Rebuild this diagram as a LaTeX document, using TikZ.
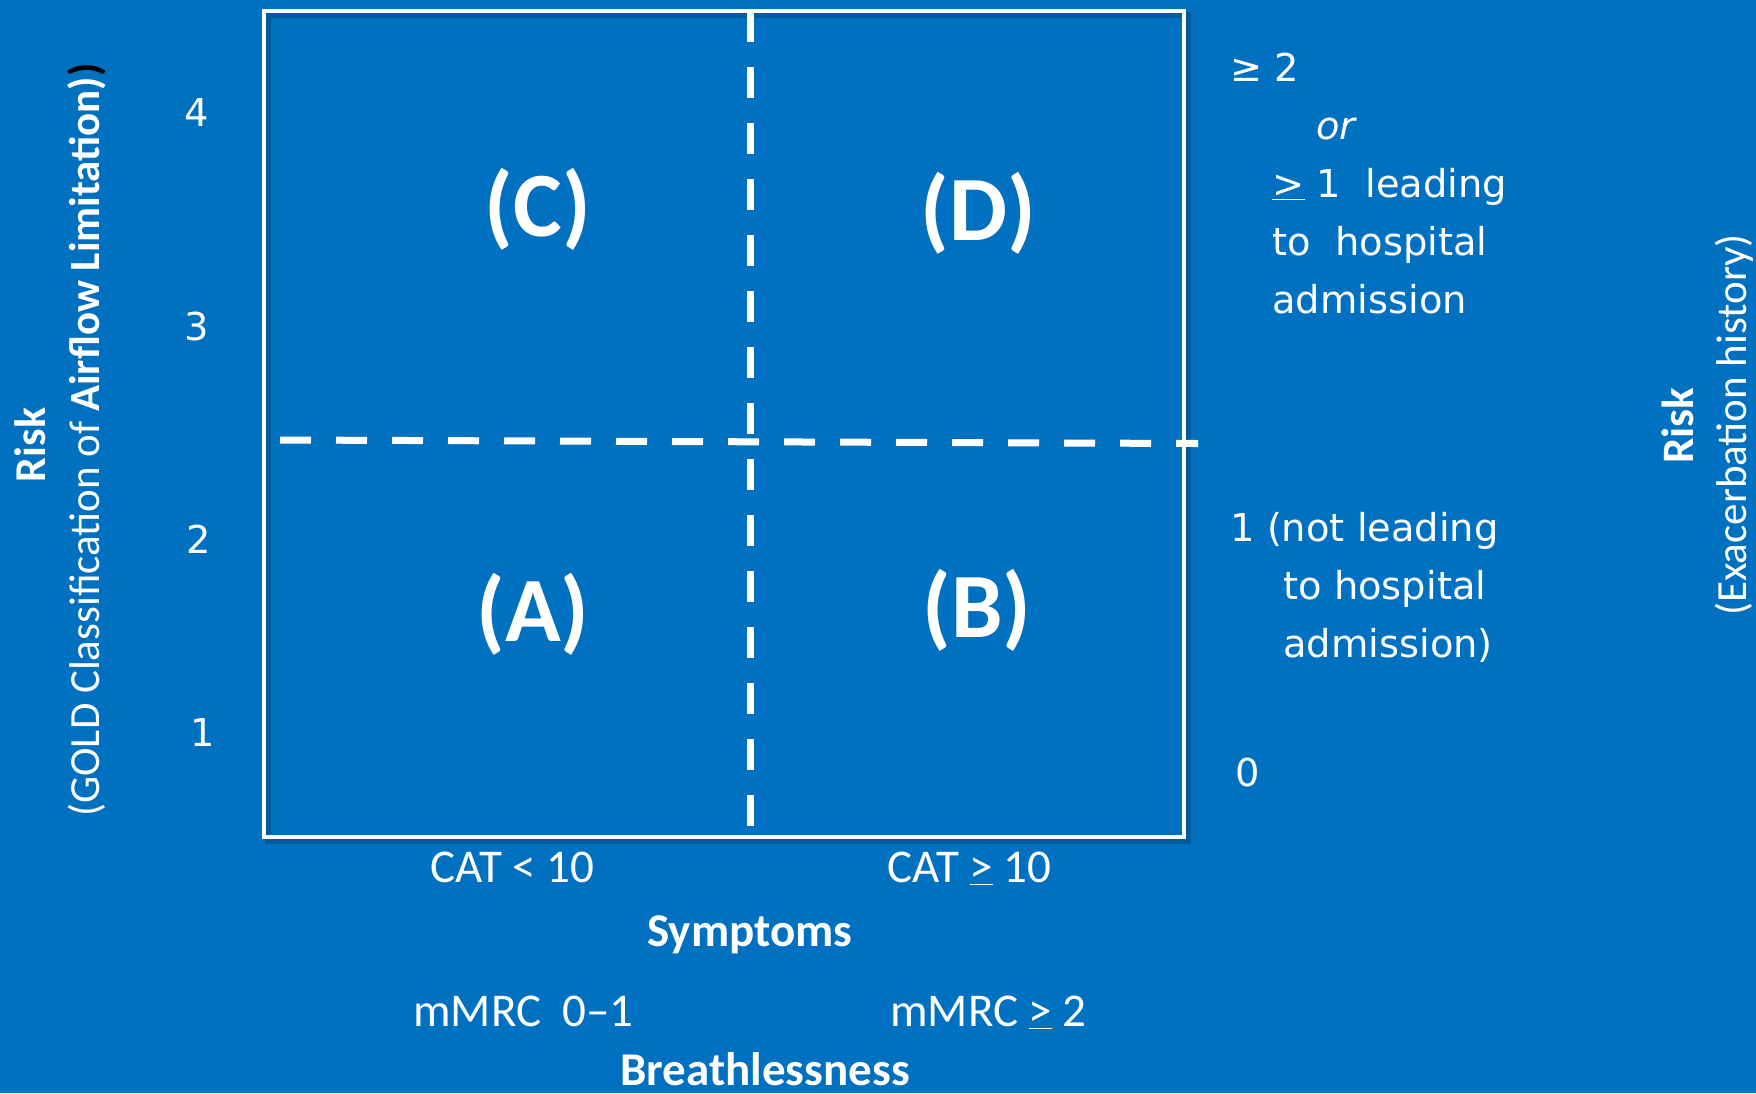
\documentclass[tikz,border=0pt]{standalone}
\usepackage{fontspec}
\newfontfamily\carlito{Carlito}
\newfontfamily\dejavu{DejaVu Sans}
\definecolor{bgblue}{HTML}{0070C0}
\definecolor{shadowblue}{HTML}{005A9C}
\begin{document}
\begin{tikzpicture}[x=0.5pt,y=-0.5pt,
  lbl/.style={text=white,inner sep=0pt},
  cal/.style={lbl,font=\carlito\fontsize{23.5}{28}\selectfont},
  calb/.style={lbl,font=\carlito\bfseries\fontsize{23.5}{28}\selectfont},
  rot/.style={lbl,rotate=90,font=\carlito\fontsize{21.5}{26}\selectfont},
  big/.style={lbl,font=\carlito\bfseries\fontsize{46}{52}\selectfont},
  dv/.style={lbl,font=\dejavu\fontsize{19.2}{29}\selectfont},
  divider/.style={draw=white,line width=3.5pt,dash pattern=on 15.5pt off 12.5pt},
  frame/.style={draw=white,line width=2.2pt}]
\fill[bgblue] (0,0) rectangle (1756,1093);
\useasboundingbox (0,0) rectangle (1756,1093);
% box
\draw[shadowblue,line width=3pt] (268,15) rectangle (1188,841);
\coordinate (tl) at (264,11);
\coordinate (br) at (1184,837);
\draw[frame] (tl) rectangle (br);
% dividers
\coordinate (vt) at (750,11);
\coordinate (vb) at (750,837);
\coordinate (hl) at (280,440);
\coordinate (hr) at (1198,443.5);
\draw[divider] (vt) -- (vb);
\draw[divider] (hl) -- (hr);
% quadrant labels
\node[big] (C) at (538,209) {(C)};
\node[big] (D) at (978,213) {(D)};
\node[big] (A) at (533,614) {(A)};
\node[big] (B) at (977,610) {(B)};
% left axis
\node[rot,font=\carlito\bfseries\fontsize{22}{26}\selectfont] (riskL) at (30,445) {Risk};
\node[rot] (gold) at (87,440) {(GOLD Classification of \textbf{Airflow Limitation)}{\color{black}\textbf{)}}};
\node[dv] (n4) at (197,112) {4};
\node[dv] (n3) at (197,327) {3};
\node[dv] (n2) at (199,539) {2};
\node[dv] (n1) at (203,732) {1};
% right axis text
\node[dv,anchor=base west] (r1) at (1230,81) {≥ 2};
\node[dv,anchor=base west] (r2) at (1316,139) {\itshape or};
\node[dv,anchor=base west] (r3) at (1272,197) {\underline{>} 1\ \ leading};
\node[dv,anchor=base west] (r4) at (1272,255) {to\ \ hospital};
\node[dv,anchor=base west] (r5) at (1272,313) {admission};
\node[dv,anchor=base west] (s1) at (1230,541) {1 (not leading};
\node[dv,anchor=base west] (s2) at (1283,599) {to hospital};
\node[dv,anchor=base west] (s3) at (1283,657) {admission)};
\node[dv,anchor=base west] (z0) at (1235,786) {0};
\node[rot,font=\carlito\bfseries\fontsize{22.5}{26}\selectfont] (riskR) at (1678,426) {Risk};
\node[rot] (exac) at (1734,425) {(Exacerbation history)};
% bottom labels
\node[cal,anchor=base west] (cat1) at (430,882) {CAT < 10};
\node[cal,anchor=base west] (cat2) at (887,882) {CAT \underline{>} 10};
\node[calb,anchor=base] (sym) at (750,946) {Symptoms};
\node[cal,anchor=base west] (mm1) at (413,1026) {mMRC\ \ 0–1};
\node[cal,anchor=base west] (mm2) at (890,1026) {mMRC \underline{>} 2};
\node[calb,anchor=base] (breath) at (765,1085) {Breathlessness};
\end{tikzpicture}
\end{document}
